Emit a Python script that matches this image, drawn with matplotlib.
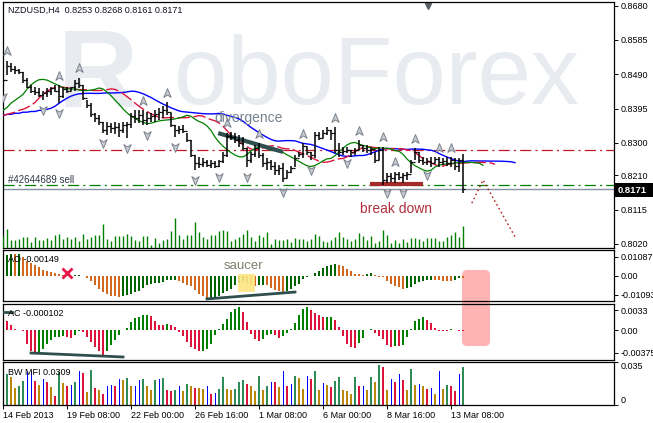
import numpy as np
import matplotlib
matplotlib.use("Agg")
import matplotlib.pyplot as plt
from matplotlib.path import Path
from matplotlib.patches import Rectangle, FancyBboxPatch
from matplotlib.transforms import IdentityTransform, blended_transform_factory

plt.rcParams['font.family'] = ['Liberation Sans', 'DejaVu Sans']
plt.rcParams['lines.scale_dashes'] = False

# NZDUSD H4 bars, 14 Feb 2013 16:00 .. 13 Mar 2013 20:00
highs = [0.8481, 0.8528, 0.8520, 0.8514, 0.8506, 0.8495, 0.8481, 0.8459, 0.8454, 0.8451,
         0.8445, 0.8451, 0.8456, 0.8459, 0.8459, 0.8456, 0.8454, 0.8456, 0.8473, 0.8481,
         0.8459, 0.8418, 0.8410, 0.8382, 0.8376, 0.8357, 0.8357, 0.8354, 0.8357, 0.8354,
         0.8357, 0.8357, 0.8382, 0.8390, 0.8390, 0.8390, 0.8385, 0.8382, 0.8390, 0.8396,
         0.8401, 0.8412, 0.8382, 0.8349, 0.8346, 0.8349, 0.8327, 0.8307, 0.8266, 0.8260,
         0.8258, 0.8252, 0.8252, 0.8249, 0.8252, 0.8274, 0.8327, 0.8329, 0.8327, 0.8321,
         0.8316, 0.8285, 0.8274, 0.8294, 0.8299, 0.8272, 0.8258, 0.8252, 0.8247, 0.8238,
         0.8244, 0.8224, 0.8236, 0.8266, 0.8274, 0.8299, 0.8288, 0.8274, 0.8329, 0.8329,
         0.8335, 0.8343, 0.8335, 0.8343, 0.8299, 0.8288, 0.8288, 0.8280, 0.8285, 0.8307,
         0.8294, 0.8294, 0.8288, 0.8274, 0.8288, 0.8288, 0.8216, 0.8216, 0.8219, 0.8219,
         0.8216, 0.8219, 0.8252, 0.8285, 0.8274, 0.8260, 0.8258, 0.8260, 0.8260, 0.8260,
         0.8258, 0.8260, 0.8260, 0.8258, 0.8258, 0.8268]
lows = [0.8454, 0.8487, 0.8495, 0.8492, 0.8490, 0.8465, 0.8451, 0.8437, 0.8432, 0.8426,
        0.8418, 0.8426, 0.8434, 0.8440, 0.8410, 0.8423, 0.8437, 0.8443, 0.8445, 0.8451,
        0.8418, 0.8396, 0.8371, 0.8357, 0.8349, 0.8327, 0.8321, 0.8327, 0.8324, 0.8316,
        0.8327, 0.8313, 0.8340, 0.8354, 0.8354, 0.8349, 0.8349, 0.8357, 0.8357, 0.8363,
        0.8368, 0.8376, 0.8343, 0.8316, 0.8324, 0.8327, 0.8302, 0.8260, 0.8224, 0.8230,
        0.8233, 0.8233, 0.8230, 0.8230, 0.8233, 0.8244, 0.8260, 0.8307, 0.8299, 0.8288,
        0.8280, 0.8233, 0.8244, 0.8260, 0.8258, 0.8233, 0.8224, 0.8224, 0.8211, 0.8211,
        0.8191, 0.8202, 0.8216, 0.8233, 0.8260, 0.8258, 0.8266, 0.8252, 0.8258, 0.8307,
        0.8313, 0.8321, 0.8307, 0.8272, 0.8260, 0.8266, 0.8272, 0.8260, 0.8266, 0.8280,
        0.8274, 0.8272, 0.8266, 0.8244, 0.8252, 0.8183, 0.8189, 0.8191, 0.8189, 0.8197,
        0.8189, 0.8197, 0.8216, 0.8252, 0.8244, 0.8238, 0.8238, 0.8233, 0.8244, 0.8233,
        0.8238, 0.8236, 0.8233, 0.8224, 0.8219, 0.8161]
closes = [0.8473, 0.8512, 0.8506, 0.8501, 0.8495, 0.8473, 0.8456, 0.8445, 0.8440, 0.8434,
          0.8437, 0.8445, 0.8451, 0.8445, 0.8429, 0.8448, 0.8445, 0.8454, 0.8467, 0.8459,
          0.8423, 0.8404, 0.8379, 0.8368, 0.8357, 0.8335, 0.8346, 0.8340, 0.8343, 0.8335,
          0.8349, 0.8351, 0.8374, 0.8368, 0.8376, 0.8363, 0.8368, 0.8374, 0.8379, 0.8385,
          0.8390, 0.8385, 0.8349, 0.8335, 0.8338, 0.8332, 0.8307, 0.8266, 0.8244, 0.8241,
          0.8247, 0.8238, 0.8244, 0.8236, 0.8249, 0.8266, 0.8318, 0.8316, 0.8307, 0.8299,
          0.8285, 0.8252, 0.8269, 0.8285, 0.8266, 0.8244, 0.8247, 0.8236, 0.8224, 0.8230,
          0.8202, 0.8219, 0.8230, 0.8258, 0.8269, 0.8291, 0.8274, 0.8266, 0.8321, 0.8313,
          0.8327, 0.8335, 0.8327, 0.8280, 0.8274, 0.8277, 0.8280, 0.8274, 0.8280, 0.8294,
          0.8285, 0.8280, 0.8283, 0.8252, 0.8280, 0.8197, 0.8208, 0.8202, 0.8213, 0.8205,
          0.8211, 0.8213, 0.8247, 0.8274, 0.8252, 0.8247, 0.8249, 0.8244, 0.8255, 0.8247,
          0.8249, 0.8244, 0.8252, 0.8236, 0.8253, 0.8171]
first_open = 0.8462

volumes = [1170, 1930, 830, 830, 930, 1070, 1070, 600, 1070, 800,
           770, 1000, 830, 1270, 1400, 930, 1070, 930, 1070, 730,
           1400, 930, 1070, 1270, 1270, 2400, 930, 670, 1170, 1170,
           1170, 1400, 1170, 830, 730, 1230, 1230, 330, 1000, 500,
           830, 930, 1730, 3000, 1330, 930, 1330, 1330, 2600, 1600,
           1070, 930, 1330, 1270, 1730, 1830, 1730, 700, 930, 1070,
           1400, 1830, 1070, 730, 1270, 1070, 1600, 400, 930, 830,
           830, 930, 600, 1000, 930, 930, 670, 930, 1400, 1170,
           670, 600, 830, 1070, 1600, 1070, 930, 670, 930, 1500,
           1170, 830, 1170, 500, 670, 1830, 1330, 500, 830, 500,
           930, 600, 1000, 1000, 930, 670, 1000, 1000, 1000, 730,
           730, 1070, 1330, 1600, 1070, 2170]

ao = [0.0119, 0.0122, 0.0126, 0.0124, 0.0128, 0.0110, 0.0087, 0.0075, 0.0064, 0.0049,
      0.0035, 0.0026, 0.0021, 0.0016, 0.0012, 0.0006, 0.0002, 0.00005, 0.00015, 0.00025,
      -0.0003, -0.0013, -0.0029, -0.0052, -0.0075, -0.0095, -0.0106, -0.0116, -0.0120, -0.0126,
      -0.0116, -0.0110, -0.0106, -0.0097, -0.0087, -0.0071, -0.0056, -0.0048, -0.0045, -0.0044,
      -0.0039, -0.0027, -0.0026, -0.0025, -0.0029, -0.0042, -0.0052, -0.0058, -0.0085, -0.0106,
      -0.0120, -0.0129, -0.0128, -0.0126, -0.0116, -0.0103, -0.0087, -0.0075, -0.0052, -0.0042,
      -0.0033, -0.0042, -0.0052, -0.0062, -0.0056, -0.0052, -0.0056, -0.0071, -0.0081, -0.0091,
      -0.0095, -0.0087, -0.0075, -0.0062, -0.0046, -0.0019, -0.0010, 0.0001, 0.0016, 0.0029,
      0.0045, 0.0058, 0.0064, 0.0068, 0.0060, 0.0054, 0.0041, 0.0025, 0.0012, 0.0011,
      0.0006, 0.0012, 0.0013, 0.0006, -0.0006, -0.0010, -0.0033, -0.0046, -0.0058, -0.0068,
      -0.0079, -0.0071, -0.0068, -0.0048, -0.0039, -0.0033, -0.0027, -0.0023, -0.0027, -0.0028,
      -0.0029, -0.0030, -0.0031, -0.0025, -0.0014, -0.00149]

ac = [0.00260, 0.00149, 0.00083, 0.00028, 0.00005, -0.00017, -0.00220, -0.00348, -0.00386, -0.00359,
      -0.00303, -0.00220, -0.00154, -0.00111, -0.00104, -0.00099, -0.00111, -0.00127, -0.00071, -0.00017,
      -0.00028, -0.00111, -0.00194, -0.00276, -0.00348, -0.00414, -0.00348, -0.00248, -0.00166, -0.00083,
      0.00005, 0.00041, 0.00132, 0.00199, 0.00220, 0.00248, 0.00257, 0.00232, 0.00149, 0.00094,
      0.00083, 0.00111, 0.00083, 0.00055, -0.00028, -0.00094, -0.00194, -0.00276, -0.00314, -0.00348,
      -0.00339, -0.00303, -0.00220, -0.00083, 0.00028, 0.00099, 0.00194, 0.00303, 0.00359, 0.00381,
      0.00303, 0.00137, -0.00055, -0.00137, -0.00182, -0.00137, -0.00083, -0.00055, -0.00083, -0.00127,
      -0.00099, -0.00038, 0.00017, 0.00127, 0.00260, 0.00359, 0.00381, 0.00331, 0.00293, 0.00260,
      0.00218, 0.00223, 0.00227, 0.00166, 0.00055, -0.00094, -0.00220, -0.00276, -0.00293, -0.00210,
      -0.00127, 0.00012, 0.00017, -0.00038, -0.00094, -0.00137, -0.00237, -0.00276, -0.00260, -0.00265,
      -0.00248, -0.00111, 0.00017, 0.00149, 0.00194, 0.00220, 0.00166, 0.00116, 0.00038, -0.00005,
      -0.00012, -0.00017, 0.00025, 0.00000, -0.00005, -0.000102]

mfi = [0.0149, 0.0253, 0.0227, 0.0141, 0.0154, 0.0196, 0.0275, 0.0280, 0.0200, 0.0163,
       0.0211, 0.0191, 0.0149, 0.0070, 0.0275, 0.0185, 0.0157, 0.0168, 0.0191, 0.0280,
       0.0264, 0.0107, 0.0289, 0.0141, 0.0120, 0.0087, 0.0154, 0.0163, 0.0154, 0.0211,
       0.0202, 0.0219, 0.0154, 0.0160, 0.0205, 0.0213, 0.0154, 0.0120, 0.0205, 0.0213,
       0.0221, 0.0120, 0.0118, 0.0122, 0.0154, 0.0112, 0.0171, 0.0154, 0.0143, 0.0141,
       0.0135, 0.0154, 0.0087, 0.0099, 0.0129, 0.0227, 0.0129, 0.0127, 0.0129, 0.0191,
       0.0205, 0.0177, 0.0154, 0.0115, 0.0238, 0.0120, 0.0154, 0.0191, 0.0189, 0.0149,
       0.0280, 0.0154, 0.0177, 0.0238, 0.0219, 0.0135, 0.0238, 0.0213, 0.0280, 0.0120,
       0.0185, 0.0163, 0.0149, 0.0196, 0.0227, 0.0120, 0.0112, 0.0093, 0.0227, 0.0154,
       0.0157, 0.0120, 0.0227, 0.0191, 0.0331, 0.0309, 0.0120, 0.0213, 0.0191, 0.0255,
       0.0205, 0.0120, 0.0297, 0.0163, 0.0171, 0.0154, 0.0129, 0.0141, 0.0093, 0.0280,
       0.0129, 0.0163, 0.0160, 0.0112, 0.0255, 0.0309]

# Alligator lines on the left edge, before the shifted averages begin
jaw_lead = [0.8376, 0.8379, 0.8379, 0.8382, 0.8382, 0.8385, 0.8385, 0.8387, 0.8387, 0.8390,
            0.8390, 0.8393, 0.8396]
teeth_lead = [0.8376, 0.8379, 0.8382, 0.8385, 0.8390, 0.8393, 0.8398, 0.8404]
lips_lead = [0.8390, 0.8398, 0.8410, 0.8418, 0.8426]

up_fractals = [1, 14, 19, 35, 41, 56, 64, 75, 83, 89, 95, 98, 103, 109, 112]
down_fractals = [0, 10, 14, 25, 31, 36, 43, 48, 54, 61, 70, 77, 86, 96, 100, 106]

date_ticks = [0, 16, 32, 48, 64, 80, 96, 112]
date_labels = ['14 Feb 2013', '19 Feb 08:00', '22 Feb 00:00', '26 Feb 16:00',
               '1 Mar 08:00', '6 Mar 00:00', '8 Mar 16:00', '13 Mar 08:00']
price_ticks = [0.8680, 0.8585, 0.8490, 0.8395, 0.8300, 0.8210, 0.8115, 0.8020]
resistance = 0.8280
order_price = 0.8183
bid = 0.8171

W, H = 653, 423
fig = plt.figure(figsize=(W / 100, H / 100), dpi=100)
fig.patch.set_facecolor('white')


def px_axes(x0, y0, x1, y1):
    return fig.add_axes([x0 / W, 1 - y1 / H, (x1 - x0) / W, (y1 - y0) / H])


def ftext(x, y, s, **kw):
    return fig.text(x / W, 1 - y / H, s, **kw)


XL = (-0.125, 152.75)
FS = 6.5


def style(a, ylim, ticks, labels):
    a.set_xlim(*XL)
    a.set_ylim(*ylim)
    a.patch.set_alpha(0)
    a.yaxis.tick_right()
    a.set_yticks(ticks, labels)
    a.tick_params(axis='y', direction='out', length=3, width=0.7, pad=2, labelsize=FS)
    a.tick_params(axis='x', bottom=False, labelbottom=False)
    for s in a.spines.values():
        s.set_linewidth(0.9)


ax = px_axes(2.5, 2, 614, 248)
ax_ao = px_axes(2.5, 250, 614, 301)
ax_ac = px_axes(2.5, 304, 614, 360)
ax_mfi = px_axes(2.5, 362, 614, 405)

# watermark
ftext(58, 107, 'R', fontsize=80, fontweight='bold', color='#e8ecf1', va='baseline', zorder=-5)
ftext(174, 104, 'oboForex', fontsize=69, color='#e8ecf1', va='baseline', zorder=-5)

# ---- main price window
style(ax, (0.80089, 0.86902), price_ticks, ['%.4f' % p for p in price_ticks])
idx = np.arange(len(closes))
opens = [first_open] + closes[:-1]
ax.vlines(idx, lows, highs, color='black', lw=1.1, zorder=5)
ax.hlines(opens, idx - 0.45, idx, color='black', lw=0.9, zorder=5)
ax.hlines(closes, idx, idx + 0.45, color='black', lw=0.9, zorder=5)

median = (np.array(highs) + np.array(lows)) / 2


def smma_line(lead, period):
    vals = list(lead)
    s = lead[-1]
    for m in median:
        s = (s * (period - 1) + m) / period
        vals.append(s)
    return np.arange(len(vals)), vals


x, y = smma_line(jaw_lead, 13)
ax.plot(x, y, color='#0000ff', lw=1, zorder=3)
x, y = smma_line(teeth_lead, 8)
ax.plot(x, y, color='#dc143c', lw=1, dashes=(9, 2.5), zorder=3)
x, y = smma_line(lips_lead, 5)
ax.plot(x, y, color='#008000', lw=0.9, zorder=3)

ax.axhline(resistance, color='#c0182a', lw=0.9, dashes=(8, 3, 1.5, 3), zorder=2)
ax.axhline(order_price, color='#008000', lw=0.9, dashes=(8, 3, 1.5, 3), zorder=2)
ax.axhline(bid, color='#8592a0', lw=1, zorder=2)
ax.text(1.3, 0.8197, '#42644689 sell', fontsize=FS + 0.5, color='#303848', va='center', zorder=6)

up_m = Path([(0, 1), (0.75, -0.8), (0, -0.3), (-0.75, -0.8), (0, 1)],
            [Path.MOVETO, Path.LINETO, Path.LINETO, Path.LINETO, Path.CLOSEPOLY])
dn_m = Path([(0, -1), (0.75, 0.8), (0, 0.3), (-0.75, 0.8), (0, -1)],
            [Path.MOVETO, Path.LINETO, Path.LINETO, Path.LINETO, Path.CLOSEPOLY])
ax.plot(up_fractals, [highs[i] + 0.0027 for i in up_fractals], ls='none', marker=up_m,
        ms=7, mfc='#c9cdd5', mec='#7b818b', mew=0.7, zorder=6)
ax.plot(down_fractals, [lows[i] - 0.0027 for i in down_fractals], ls='none', marker=dn_m,
        ms=7, mfc='#c9cdd5', mec='#7b818b', mew=0.7, zorder=6)

# volumes at the bottom of the price window
vax = ax.inset_axes([0, 0, 1, 30 / 246])
vax.set_xlim(*XL)
vax.set_ylim(0, 3000)
vax.axis('off')
vax.vlines(idx, 0, volumes, color='#008000', lw=1)

# annotations
ax.plot([53.8, 70], [0.8327, 0.8275], color='#2f4f4f', lw=3, solid_capstyle='butt', zorder=4)
ax.text(61.5, 0.8368, 'divergence', fontsize=10, color='#75828f', ha='center', va='center', zorder=6)
ax.plot([91.8, 105], [0.8186, 0.8186], color='#a52a2a', lw=3, solid_capstyle='butt', zorder=4)
ax.text(98.2, 0.8117, 'break down', fontsize=10, color='#b0303c', ha='center', va='center', zorder=6)
ax.plot([117.2, 120, 128], [0.8133, 0.8197, 0.8040], color='#b22222', lw=1, dashes=(1.2, 2))
tr = blended_transform_factory(ax.transData, ax.transAxes)
ax.plot([106.25], [0.985], marker='v', ms=5, color='#5a606a', transform=tr, clip_on=False)

# bid price box
fig.add_artist(Rectangle((614, H - 197), 39, 14, transform=IdentityTransform(),
                         facecolor='black', edgecolor='none', zorder=10))
ftext(618, 190, '%.4f' % bid, fontsize=FS + 0.3, color='white', fontweight='bold', va='center', zorder=11)
ftext(8, 10.5, 'NZDUSD,H4  0.8253 0.8268 0.8161 0.8171', fontsize=FS, color='#101020', va='center')

# ---- AO
style(ax_ao, (-0.0147, 0.0149), [0.01087, 0, -0.01093], ['0.01087', '0.00', '-0.01093'])
ao_col = ['#006400' if i == 0 or ao[i] > ao[i - 1] else '#d2691e' for i in idx]
ax_ao.bar(idx, ao, width=0.72, color=ao_col, zorder=2)
ax_ao.add_patch(Rectangle((58.75, -0.0095), 4.25, 0.0105, facecolor='#fde583', alpha=0.9, zorder=3))
ax_ao.plot([51, 73], [-0.0135, -0.0095], color='#2f4f4f', lw=2, zorder=4)
ax_ao.plot([16], [0.0016], marker='x', ms=7, mew=2, color='#e8194a', zorder=5)
ax_ao.text(60, 0.0058, 'saucer', fontsize=9.5, color='#80806f', ha='center', va='center', zorder=5)
ftext(8, 260, 'AO -0.00149', fontsize=FS, color='black', va='center')

# ---- AC
style(ax_ac, (-0.00492, 0.00435), [0.0033, 0, -0.00375], ['0.0033', '0.00', '-0.00375'])
ac_col = ['#dc143c' if i == 0 or ac[i] <= ac[i - 1] else '#008000' for i in idx]
ax_ac.bar(idx, ac, width=0.72, color=ac_col, zorder=2)
ax_ac.plot([7, 30], [-0.00376, -0.00442], color='#2f4f4f', lw=2, zorder=4)
ax_ac.plot([0, 2.3], [0.0031, 0.0031], color='#2f4f4f', lw=2, zorder=4)
ftext(8, 313.5, 'AC -0.000102', fontsize=FS, color='black', va='center')

# ---- BW MFI
style(ax_mfi, (0, 0.0354), [0.035, 0], ['0.035', '0'])
for lab, va in zip(ax_mfi.get_yticklabels(), ['top', 'bottom']):
    lab.set_va(va)
for i in idx:
    if i == 0:
        c = '#0000ff'
    else:
        mu = mfi[i] > mfi[i - 1]
        vu = volumes[i] > volumes[i - 1]
        c = {(True, True): '#2e8b57', (False, False): '#b8860b',
             (True, False): '#0000ff', (False, True): '#dc143c'}[(mu, vu)]
    w = 0.25 if c == '#0000ff' else 0.72
    ax_mfi.bar(i, mfi[i], width=w, color=c, zorder=2)
ftext(8, 372.5, 'BW MFI 0.0309', fontsize=FS, color='black', va='center')
ax_mfi.set_xticks(date_ticks, date_labels)
ax_mfi.tick_params(axis='x', bottom=True, labelbottom=True, direction='out', length=3,
                   width=0.7, pad=1, labelsize=FS)
for lab in ax_mfi.get_xticklabels():
    lab.set_ha('left')

# pink highlight across AO / AC
fig.add_artist(FancyBboxPatch((462, H - 346), 28, 76, boxstyle='round,pad=0,rounding_size=5',
                              transform=IdentityTransform(), facecolor='#ffb3b3',
                              edgecolor='none', zorder=-1))

fig.savefig('out.png', dpi=100, facecolor='white')
